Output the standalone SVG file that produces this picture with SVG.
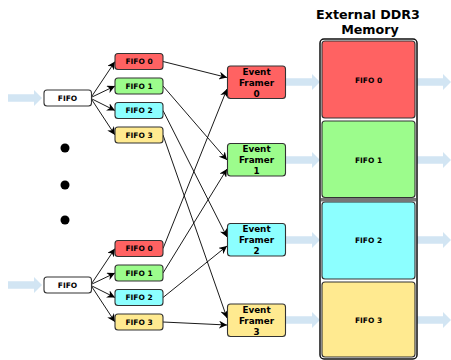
<svg xmlns="http://www.w3.org/2000/svg" width="451" height="360" viewBox="0 0 451 360">
<defs>
<marker id="ah" viewBox="0 0 10 10" refX="10" refY="5" markerWidth="8" markerHeight="8" markerUnits="userSpaceOnUse" orient="auto"><path d="M0,0 L10,5 L0,10 L3,5 Z" fill="#000"/></marker>
<path id="barrow" d="M0,-3.8 L26,-3.8 L26,-8 L34,0 L26,8 L26,3.8 L0,3.8 Z" fill="#d2e5f3"/>
</defs>
<style>
.box{stroke:#333;stroke-width:1.1}
.lbl{font-family:"DejaVu Sans",sans-serif;font-weight:bold;font-size:7.5px;text-anchor:middle;fill:#000}
.ef{font-family:"DejaVu Sans",sans-serif;font-weight:bold;font-size:8.8px;text-anchor:middle;fill:#000}
.r{fill:#ff6262}.g{fill:#9cfc8c}.c{fill:#8cffff}.y{fill:#ffea90}.w{fill:#fff}
.conn line{stroke:#000;stroke-width:0.9;fill:none;marker-end:url(#ah)}
</style>
<rect width="451" height="360" fill="#fff"/>
<text x="368" y="18.5" class="ef" style="font-size:12.7px">External DDR3</text>
<text x="370" y="33.5" class="ef" style="font-size:12.7px">Memory</text>
<g id="blue-arrows">
<use href="#barrow" x="8" y="98"/>
<use href="#barrow" x="8" y="285"/>
<use href="#barrow" x="286" y="82"/>
<use href="#barrow" x="286" y="160"/>
<use href="#barrow" x="286" y="240"/>
<use href="#barrow" x="286" y="320"/>
<use href="#barrow" x="417" y="82"/>
<use href="#barrow" x="417" y="160"/>
<use href="#barrow" x="417" y="240"/>
<use href="#barrow" x="417" y="320"/>
</g>
<g id="dots" fill="#000"><circle cx="65" cy="148" r="4.5"/><circle cx="65" cy="185" r="4.5"/><circle cx="65" cy="220" r="4.5"/></g>
<g id="memory">
<rect x="320" y="39" width="97" height="320" rx="4" fill="#fff" stroke="#111" stroke-width="1.5"/>
<rect x="321" y="198" width="95" height="3.5" fill="#777"/>
<g id="mem0"><rect class="box r" x="322" y="41" width="93" height="77" rx="3"/><text class="lbl" x="368.5" y="82.5">FIFO 0</text></g>
<g id="mem1"><rect class="box g" x="322" y="121" width="93" height="76.5" rx="3"/><text class="lbl" x="368.5" y="162.5">FIFO 1</text></g>
<g id="mem2"><rect class="box c" x="322" y="202" width="93" height="77" rx="3"/><text class="lbl" x="368.5" y="243">FIFO 2</text></g>
<g id="mem3"><rect class="box y" x="322" y="282" width="93" height="75" rx="3"/><text class="lbl" x="368.5" y="323">FIFO 3</text></g>
</g>
<g id="connectors" class="conn">
<line x1="92" y1="96" x2="115" y2="61.5"/>
<line x1="92" y1="97" x2="115" y2="86"/>
<line x1="92" y1="99" x2="115" y2="110.5"/>
<line x1="92" y1="100" x2="115" y2="135"/>
<line x1="92" y1="283" x2="115" y2="248.5"/>
<line x1="92" y1="284" x2="115" y2="273"/>
<line x1="92" y1="286" x2="115" y2="297.5"/>
<line x1="92" y1="287" x2="115" y2="322"/>
<line x1="163" y1="61.5" x2="227" y2="77.5"/>
<line x1="163" y1="86" x2="227" y2="160"/>
<line x1="163" y1="110.5" x2="227" y2="237"/>
<line x1="163" y1="135" x2="227" y2="318"/>
<line x1="163" y1="248.5" x2="227" y2="89"/>
<line x1="163" y1="273" x2="227" y2="169"/>
<line x1="163" y1="297.5" x2="227" y2="246"/>
<line x1="163" y1="322" x2="227" y2="325"/>
</g>
<g id="fifo-top"><rect class="box w" x="44" y="90" width="47.5" height="16" rx="3"/><text class="lbl" x="67.5" y="100.8">FIFO</text></g>
<g id="fifo-bot"><rect class="box w" x="44" y="277" width="47.5" height="16" rx="3"/><text class="lbl" x="67.5" y="287.8">FIFO</text></g>
<g id="t0"><rect class="box r" x="115" y="53.5" width="48" height="16" rx="3"/><text class="lbl" x="139" y="64.3">FIFO 0</text></g>
<g id="t1"><rect class="box g" x="115" y="78" width="48" height="16" rx="3"/><text class="lbl" x="139" y="88.8">FIFO 1</text></g>
<g id="t2"><rect class="box c" x="115" y="102.5" width="48" height="16" rx="3"/><text class="lbl" x="139" y="113.3">FIFO 2</text></g>
<g id="t3"><rect class="box y" x="115" y="127" width="48" height="16" rx="3"/><text class="lbl" x="139" y="137.8">FIFO 3</text></g>
<g id="b0"><rect class="box r" x="115" y="240.5" width="48" height="16" rx="3"/><text class="lbl" x="139" y="251.3">FIFO 0</text></g>
<g id="b1"><rect class="box g" x="115" y="265" width="48" height="16" rx="3"/><text class="lbl" x="139" y="275.8">FIFO 1</text></g>
<g id="b2"><rect class="box c" x="115" y="289.5" width="48" height="16" rx="3"/><text class="lbl" x="139" y="300.3">FIFO 2</text></g>
<g id="b3"><rect class="box y" x="115" y="314" width="48" height="16" rx="3"/><text class="lbl" x="139" y="324.8">FIFO 3</text></g>
<g id="ef0"><rect class="box r" x="227.5" y="66" width="58" height="32.5" rx="3"/><text class="ef" x="256.5" y="74.5">Event</text><text class="ef" x="256.5" y="85.5">Framer</text><text class="ef" x="256.5" y="96.5">0</text></g>
<g id="ef1"><rect class="box g" x="227.5" y="143.5" width="58" height="32.5" rx="3"/><text class="ef" x="256.5" y="152">Event</text><text class="ef" x="256.5" y="163">Framer</text><text class="ef" x="256.5" y="174">1</text></g>
<g id="ef2"><rect class="box c" x="227.5" y="223.5" width="58" height="32.5" rx="3"/><text class="ef" x="256.5" y="232">Event</text><text class="ef" x="256.5" y="243">Framer</text><text class="ef" x="256.5" y="254">2</text></g>
<g id="ef3"><rect class="box y" x="227.5" y="304" width="58" height="32.5" rx="3"/><text class="ef" x="256.5" y="312.5">Event</text><text class="ef" x="256.5" y="323.5">Framer</text><text class="ef" x="256.5" y="334.5">3</text></g>
</svg>
